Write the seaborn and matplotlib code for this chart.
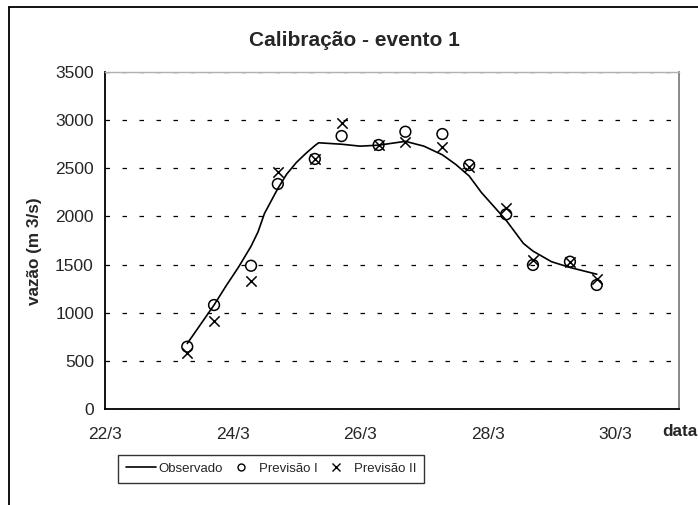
import numpy as np
import pandas as pd
import matplotlib
matplotlib.use('Agg')
import matplotlib.pyplot as plt
import seaborn as sns
from matplotlib.lines import Line2D

# dados (dia de março, vazão m3/s)
dias_obs = [23.29, 23.5, 23.71, 23.9, 24.1, 24.29, 24.4, 24.5, 24.71, 24.85,
            25.0, 25.15, 25.29, 25.35, 25.71, 26.0, 26.29, 26.71, 27.0, 27.29,
            27.5, 27.71, 27.9, 28.29, 28.56, 28.71, 29.0, 29.29, 29.71]
vazao_obs = [680, 880, 1080, 1280, 1480, 1690, 1840, 2030, 2290, 2440,
             2560, 2655, 2735, 2765, 2750, 2730, 2740, 2780, 2730, 2640,
             2540, 2420, 2250, 1960, 1720, 1640, 1530, 1470, 1400]

dias_prev = [23.29, 23.71, 24.29, 24.71, 25.29, 25.71, 26.29,
             26.71, 27.29, 27.71, 28.29, 28.71, 29.29, 29.71]
previsao_1 = [647, 1080, 1488, 2337, 2597, 2835, 2742,
              2880, 2856, 2534, 2022, 1496, 1530, 1288]
previsao_2 = [585, 917, 1333, 2465, 2597, 2967, 2742,
              2776, 2718, 2510, 2091, 1548, 1530, 1347]

ticks_x = [22, 24, 26, 28, 30]
labels_x = ['22/3', '24/3', '26/3', '28/3', '30/3']

sns.set_style('white')
plt.rcParams['font.family'] = ['Liberation Sans', 'DejaVu Sans']

df_obs = pd.DataFrame({'dia': dias_obs, 'vazao': vazao_obs})
df_prev = pd.DataFrame({'dia': dias_prev, 'p1': previsao_1, 'p2': previsao_2})

fig = plt.figure(figsize=(6.98, 5.05), dpi=100)
ax = fig.add_axes([0.1504, 0.1901, 0.8224, 0.6673])

sns.lineplot(data=df_obs, x='dia', y='vazao', ax=ax, color='black', lw=1.2, label='Observado')
sns.scatterplot(data=df_prev, x='dia', y='p1', ax=ax, marker='o', s=60, facecolors='none',
                edgecolor='black', linewidth=1.1, label='Previsão I', zorder=3)
sns.scatterplot(data=df_prev, x='dia', y='p2', ax=ax, marker='x', s=55, color='black',
                linewidth=1.1, label='Previsão II', zorder=3)

ax.set_xlim(22, 31)
ax.set_ylim(0, 3500)
ax.set_xticks(ticks_x)
ax.set_xticklabels(labels_x)
ax.set_yticks(np.arange(0, 3501, 500))
ax.tick_params(axis='both', direction='out', length=4, width=1, color='black', labelsize=12.5, pad=4)
ax.tick_params(axis='x', pad=9)
ax.yaxis.grid(True, color='black', lw=0.9, linestyle=(0, (3.6, 10)))
ax.set_axisbelow(True)

for s in ['left', 'bottom']:
    ax.spines[s].set_color('black')
    ax.spines[s].set_linewidth(1.3)
ax.spines['right'].set_color('#808080')
ax.spines['right'].set_linewidth(1.3)
ax.spines['top'].set_color('#b0b0b0')
ax.spines['top'].set_linewidth(1.0)

ax.set_title('Calibração - evento 1', fontsize=15, fontweight='bold', x=0.434, pad=19)
ax.set_ylabel('vazão (m 3/s)', fontsize=12.3, fontweight='bold')
ax.yaxis.set_label_coords(-0.11, 0.469)
ax.set_xlabel('data', fontsize=12.3, fontweight='bold')
ax.xaxis.set_label_coords(1.002, -0.045)

ax.get_legend().remove()
handles = [Line2D([], [], color='black', lw=1.2),
           Line2D([], [], color='black', marker='o', ls='none', markersize=5, markerfacecolor='none'),
           Line2D([], [], color='black', marker='x', ls='none', markersize=6)]
leg = fig.legend(handles, ['Observado', 'Previsão I', 'Previsão II'], ncol=3,
                 loc='center', bbox_to_anchor=(0.388, 0.0713), frameon=True, fancybox=False,
                 fontsize=9.5, handlelength=2.3, handletextpad=0.15, columnspacing=0.3,
                 borderpad=0.6, borderaxespad=0, edgecolor='black')
leg.get_frame().set_linewidth(1.0)

# moldura externa
fig.add_artist(Line2D([0.0129, 0.0129], [0, 0.986], color='black', lw=1.3, transform=fig.transFigure))
fig.add_artist(Line2D([0.0129, 1], [0.986, 0.986], color='black', lw=1.3, transform=fig.transFigure))

fig.savefig('out.png', dpi=100)
